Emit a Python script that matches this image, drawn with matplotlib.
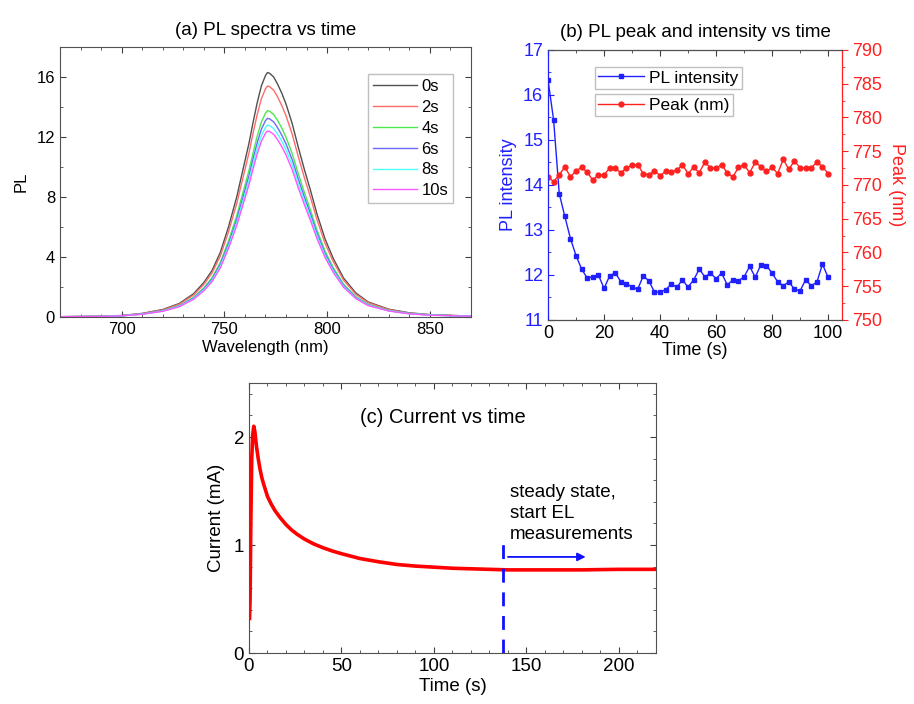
import matplotlib
matplotlib.use("Agg")
import matplotlib.pyplot as plt
from matplotlib.ticker import MultipleLocator

plt.rcParams['font.family'] = ['Liberation Sans', 'DejaVu Sans']

# ---- (a) PL spectra vs time ----
wavelength = [670, 690, 700, 710, 720, 728, 735, 740, 744, 748, 752, 756, 759, 762, 764, 766, 768, 770,
              771, 772, 774, 776, 778, 780, 783, 786, 789, 792, 795, 799, 803, 808, 814, 820, 830, 840,
              850, 870]
pl_0s = [0.02, 0.05, 0.10, 0.24, 0.50, 0.90, 1.55, 2.30, 3.10, 4.30, 6.00, 8.00, 9.80, 11.60, 13.00, 14.30,
         15.40, 16.10, 16.30, 16.25, 16.00, 15.50, 14.90, 14.20, 12.90, 11.30, 9.80, 8.40, 6.90, 5.20,
         3.90, 2.60, 1.60, 1.00, 0.52, 0.28, 0.16, 0.06]
pl_2s = [0.02, 0.05, 0.09, 0.23, 0.47, 0.85, 1.46, 2.17, 2.93, 4.06, 5.67, 7.56, 9.26, 10.96, 12.29, 13.51,
         14.55, 15.21, 15.40, 15.36, 15.12, 14.65, 14.08, 13.42, 12.19, 10.68, 9.26, 7.94, 6.52, 4.91,
         3.69, 2.46, 1.51, 0.95, 0.49, 0.26, 0.15, 0.06]
pl_4s = [0.02, 0.04, 0.08, 0.20, 0.42, 0.76, 1.31, 1.94, 2.62, 3.63, 5.06, 6.75, 8.27, 9.79, 10.97, 12.07,
         13.00, 13.59, 13.76, 13.72, 13.50, 13.08, 12.58, 11.98, 10.89, 9.54, 8.27, 7.09, 5.82, 4.39,
         3.29, 2.19, 1.35, 0.84, 0.44, 0.24, 0.14, 0.05]
pl_6s = [0.02, 0.04, 0.08, 0.20, 0.41, 0.73, 1.26, 1.87, 2.52, 3.50, 4.88, 6.50, 7.97, 9.43, 10.57, 11.63,
         12.52, 13.09, 13.25, 13.21, 13.01, 12.60, 12.11, 11.54, 10.49, 9.19, 7.97, 6.83, 5.61, 4.23,
         3.17, 2.11, 1.30, 0.81, 0.42, 0.23, 0.13, 0.05]
pl_8s = [0.02, 0.04, 0.08, 0.19, 0.39, 0.71, 1.22, 1.81, 2.43, 3.38, 4.71, 6.28, 7.69, 9.11, 10.21, 11.23,
         12.09, 12.64, 12.80, 12.76, 12.56, 12.17, 11.70, 11.15, 10.13, 8.87, 7.69, 6.59, 5.42, 4.08,
         3.06, 2.04, 1.26, 0.79, 0.41, 0.22, 0.13, 0.05]
pl_10s = [0.02, 0.04, 0.08, 0.18, 0.38, 0.68, 1.18, 1.75, 2.36, 3.27, 4.57, 6.09, 7.46, 8.83, 9.89, 10.88,
          11.72, 12.25, 12.40, 12.37, 12.18, 11.80, 11.34, 10.81, 9.82, 8.60, 7.46, 6.39, 5.25, 3.96,
          2.97, 1.98, 1.22, 0.76, 0.40, 0.21, 0.12, 0.05]
spectra = [("0s", pl_0s, "#505050"), ("2s", pl_2s, "#ff6a6a"), ("4s", pl_4s, "#4de84d"),
           ("6s", pl_6s, "#6a6aff"), ("8s", pl_8s, "#4dffff"), ("10s", pl_10s, "#ff55ff")]

# ---- (b) PL peak and intensity vs time ----
time_b = list(range(0, 101, 2))
pl_intensity = [16.33, 15.44, 13.81, 13.30, 12.81, 12.43, 12.13, 11.93, 11.96, 12.00, 11.70, 11.98, 12.05,
                11.85, 11.80, 11.74, 11.68, 11.98, 11.87, 11.62, 11.62, 11.67, 11.80, 11.73, 11.89, 11.73,
                11.89, 12.13, 11.96, 12.04, 11.92, 12.04, 11.78, 11.89, 11.87, 11.96, 12.19, 11.95, 12.23,
                12.21, 12.04, 11.85, 11.76, 11.85, 11.68, 11.65, 11.89, 11.76, 11.84, 12.24, 11.95]
peak_nm = [771.2, 770.5, 771.5, 772.7, 771.2, 772.1, 772.6, 771.9, 770.7, 771.5, 771.5, 772.5, 772.5,
           771.8, 772.5, 773.0, 773.0, 771.7, 771.5, 772.1, 771.4, 772.0, 771.9, 772.2, 773.0, 771.7,
           772.6, 771.8, 773.4, 772.5, 772.5, 773.0, 771.8, 771.2, 772.6, 773.0, 771.8, 773.4, 772.7,
           772.0, 772.6, 771.7, 773.8, 772.3, 773.6, 772.5, 772.5, 772.5, 773.4, 772.7, 771.7]

# ---- (c) Current vs time ----
time_c = [0.3, 0.6, 1.0, 1.5, 2.0, 2.6, 3.2, 4, 5, 6, 7, 8, 10, 12, 14, 17, 20, 23, 26, 30, 35, 40, 45,
          50, 60, 70, 80, 90, 100, 110, 120, 130, 140, 160, 180, 200, 220]
current = [0.32, 0.50, 1.20, 1.80, 2.02, 2.10, 2.05, 1.92, 1.80, 1.70, 1.62, 1.56, 1.45, 1.38, 1.32, 1.25,
           1.19, 1.14, 1.10, 1.055, 1.01, 0.975, 0.945, 0.92, 0.875, 0.845, 0.82, 0.805, 0.795, 0.785,
           0.78, 0.775, 0.77, 0.77, 0.77, 0.775, 0.775]
steady_t = 137.5
arrow_t = [140, 182]
arrow_y = 0.89

fig = plt.figure(figsize=(9.14, 7.04), dpi=100)

# (a)
axa = fig.add_axes([0.0656, 0.5497, 0.4497, 0.3835])
for lab, ys, col in spectra:
    axa.plot(wavelength, ys, color=col, lw=1.0, label=lab)
axa.set_xlim(670, 870)
axa.set_ylim(0, 18)
axa.xaxis.set_major_locator(MultipleLocator(50))
axa.xaxis.set_minor_locator(MultipleLocator(10))
axa.yaxis.set_major_locator(MultipleLocator(4))
axa.yaxis.set_minor_locator(MultipleLocator(2))
axa.tick_params(which='both', direction='in', top=True, right=True, labelsize=12, color='#404040')
axa.tick_params(which='major', length=4)
axa.tick_params(which='minor', length=2.5)
for s in axa.spines.values():
    s.set_color('#505050')
axa.set_xlabel("Wavelength (nm)", fontsize=12, labelpad=2)
axa.set_ylabel("PL", fontsize=12, labelpad=6)
axa.set_title("(a) PL spectra vs time", fontsize=13.5, pad=9)
leg = axa.legend(loc='upper right', bbox_to_anchor=(0.957, 0.9), fontsize=12, frameon=True,
                 fancybox=False, edgecolor='#b0b0b0', handlelength=2.6, handletextpad=0.3,
                 labelspacing=0.35, borderpad=0.3, borderaxespad=0)
leg.get_frame().set_linewidth(1.0)

# (b)
axb = fig.add_axes([0.5996, 0.5455, 0.3217, 0.3835])
axb2 = axb.twinx()
l1, = axb.plot(time_b, pl_intensity, color='#2020ff', lw=1.0, marker='s', ms=3.5, label='PL intensity')
l2, = axb2.plot(time_b, peak_nm, color='#ff2020', lw=1.0, marker='o', ms=3.5, label='Peak (nm)')
axb.set_xlim(0, 105)
axb.set_ylim(11, 17)
axb2.set_ylim(750, 790)
axb.xaxis.set_major_locator(MultipleLocator(20))
axb.xaxis.set_minor_locator(MultipleLocator(10))
axb.yaxis.set_major_locator(MultipleLocator(1))
axb.yaxis.set_minor_locator(MultipleLocator(0.5))
axb2.yaxis.set_major_locator(MultipleLocator(5))
axb2.yaxis.set_minor_locator(MultipleLocator(2.5))
axb.tick_params(axis='x', which='both', direction='in', top=True, labelsize=13, color='#404040')
axb.tick_params(axis='y', which='both', direction='in', colors='#2020ff', labelsize=13)
axb2.tick_params(axis='y', which='both', direction='out', colors='#ff2020', labelsize=13)
for a in (axb, axb2):
    a.tick_params(which='major', length=4)
    a.tick_params(which='minor', length=2.5)
axb2.spines['left'].set_color('#2020ff')
axb2.spines['right'].set_color('#ff2020')
axb2.spines['top'].set_color('#505050')
axb2.spines['bottom'].set_color('#505050')
axb.set_xlabel("Time (s)", fontsize=13, labelpad=0)
axb.set_ylabel("PL intensity", fontsize=13, color='#2020ff', labelpad=4)
axb2.set_ylabel("Peak (nm)", fontsize=13, color='#ff2020', rotation=270, labelpad=16)
axb.set_title("(b) PL peak and intensity vs time", fontsize=13.5, pad=9)
for line, top in ((l1, 0.905), (l2, 0.866)):
    lg = fig.legend(handles=[line], loc='upper left', bbox_to_anchor=(0.651, top), fontsize=12.5,
                    frameon=True, fancybox=False, edgecolor='#b0b0b0', handlelength=2.6,
                    handletextpad=0.3, borderpad=0.2, borderaxespad=0)
    lg.get_frame().set_linewidth(1.0)

# (c)
axc = fig.add_axes([0.2724, 0.0724, 0.4453, 0.3835])
axc.plot(time_c, current, color='#ff0000', lw=2.6)
axc.plot([steady_t, steady_t], [0, 1.02], color='#1010ff', lw=2, ls=(0, (5, 3.5)))
axc.annotate("", xy=(arrow_t[1], arrow_y), xytext=(arrow_t[0], arrow_y),
             arrowprops=dict(arrowstyle='-|>', color='#1010ff', lw=1.3, mutation_scale=12,
                             shrinkA=0, shrinkB=0))
axc.text(141, 1.29, "steady state,\nstart EL\nmeasurements", fontsize=13.5,
         va='center', ha='left', linespacing=1.3)
axc.text(105, 2.18, "(c) Current vs time", fontsize=14.5, ha='center', va='center')
axc.set_xlim(0, 220)
axc.set_ylim(0, 2.5)
axc.xaxis.set_major_locator(MultipleLocator(50))
axc.xaxis.set_minor_locator(MultipleLocator(10))
axc.yaxis.set_major_locator(MultipleLocator(1))
axc.yaxis.set_minor_locator(MultipleLocator(0.2))
axc.tick_params(which='both', direction='in', top=True, right=True, labelsize=13.5, color='#404040')
axc.tick_params(which='major', length=4)
axc.tick_params(which='minor', length=2.5)
for s in axc.spines.values():
    s.set_color('#505050')
axc.set_xlabel("Time (s)", fontsize=13.5, labelpad=2)
axc.set_ylabel("Current (mA)", fontsize=13.5, labelpad=6)

fig.savefig("out.png", dpi=100)
